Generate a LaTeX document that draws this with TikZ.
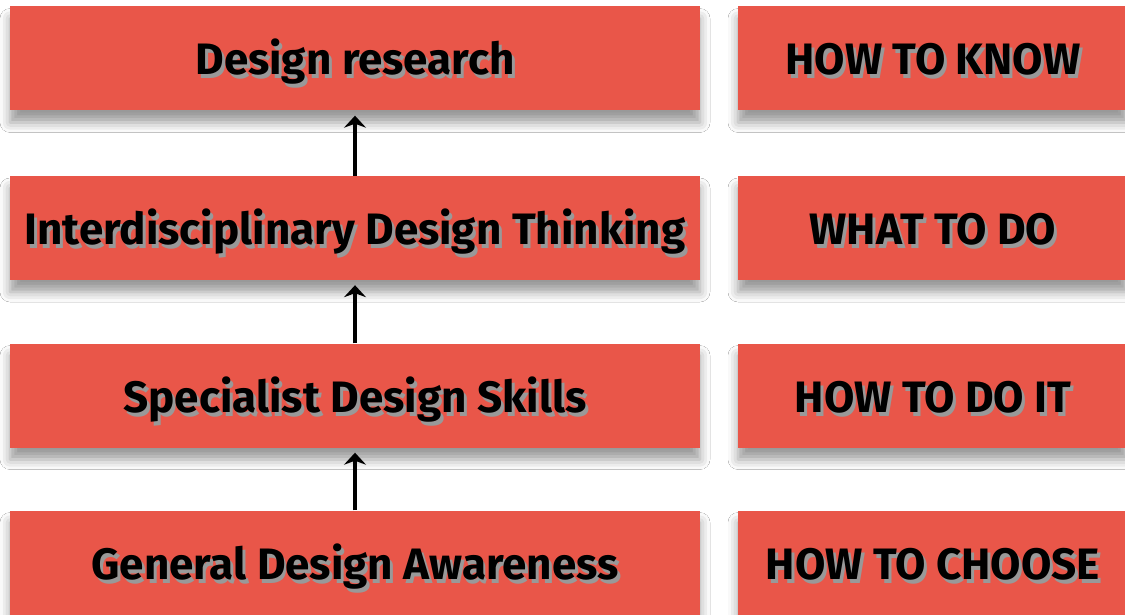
\documentclass[tikz,border=0pt]{standalone}
\usepackage{fontspec}
\setmainfont{Fira Sans}
\usepackage{tikz}
\usetikzlibrary{arrows.meta}
\usetikzlibrary{shadows.blur}

\definecolor{barred}{RGB}{233,86,73}

% label with a soft dark copy behind it
\newcommand{\shadelabel}[1]{\makebox[0pt][l]{\hspace{3pt}\raisebox{-4pt}{\textcolor{black!40}{#1}}}#1}

\tikzset{
  bar/.style={fill=barred, draw=none, minimum height=104pt, inner sep=0pt,
    font=\fontsize{44}{50}\selectfont\bfseries, text=black,
    text height=33pt, text depth=0pt,
    blur shadow={shadow xshift=0pt, shadow yshift=-12pt, shadow blur radius=10pt, shadow opacity=40}},
  leftbar/.style={bar, minimum width=690pt},
  rightbar/.style={bar, minimum width=390pt},
  uparrow/.style={line width=3.5pt, -{Stealth[length=12pt,width=22pt,inset=4pt]}, shorten >=5pt}
}

\begin{document}
\begin{tikzpicture}[x=1pt,y=-1pt]
	\useasboundingbox (0,0) rectangle (1125,615);
	\fill[white] (0,0) rectangle (1125,615);

	% left column
	\node[leftbar] (research) at (355,58.5) {\shadelabel{Design research}};
	\node[leftbar] (thinking) at (355,228) {\shadelabel{Interdisciplinary Design Thinking}};
	\node[leftbar] (skills) at (355,395.5) {\shadelabel{Specialist Design Skills}};
	\node[leftbar] (awareness) at (355,562.5) {\shadelabel{General Design Awareness}};

	% right column
	\node[rightbar] (know) at (933,58.5) {\shadelabel{HOW TO KNOW}};
	\node[rightbar] (whatdo) at (933,228) {\shadelabel{WHAT TO DO}};
	\node[rightbar] (doit) at (933,395.5) {\shadelabel{HOW TO DO IT}};
	\node[rightbar] (choose) at (933,562.5) {\shadelabel{HOW TO CHOOSE}};

	% arrows
	\draw[uparrow] (thinking.north) -- (research.south);
	\draw[uparrow] (skills.north) -- (thinking.south);
	\draw[uparrow] (awareness.north) -- (skills.south);
\end{tikzpicture}
\end{document}
